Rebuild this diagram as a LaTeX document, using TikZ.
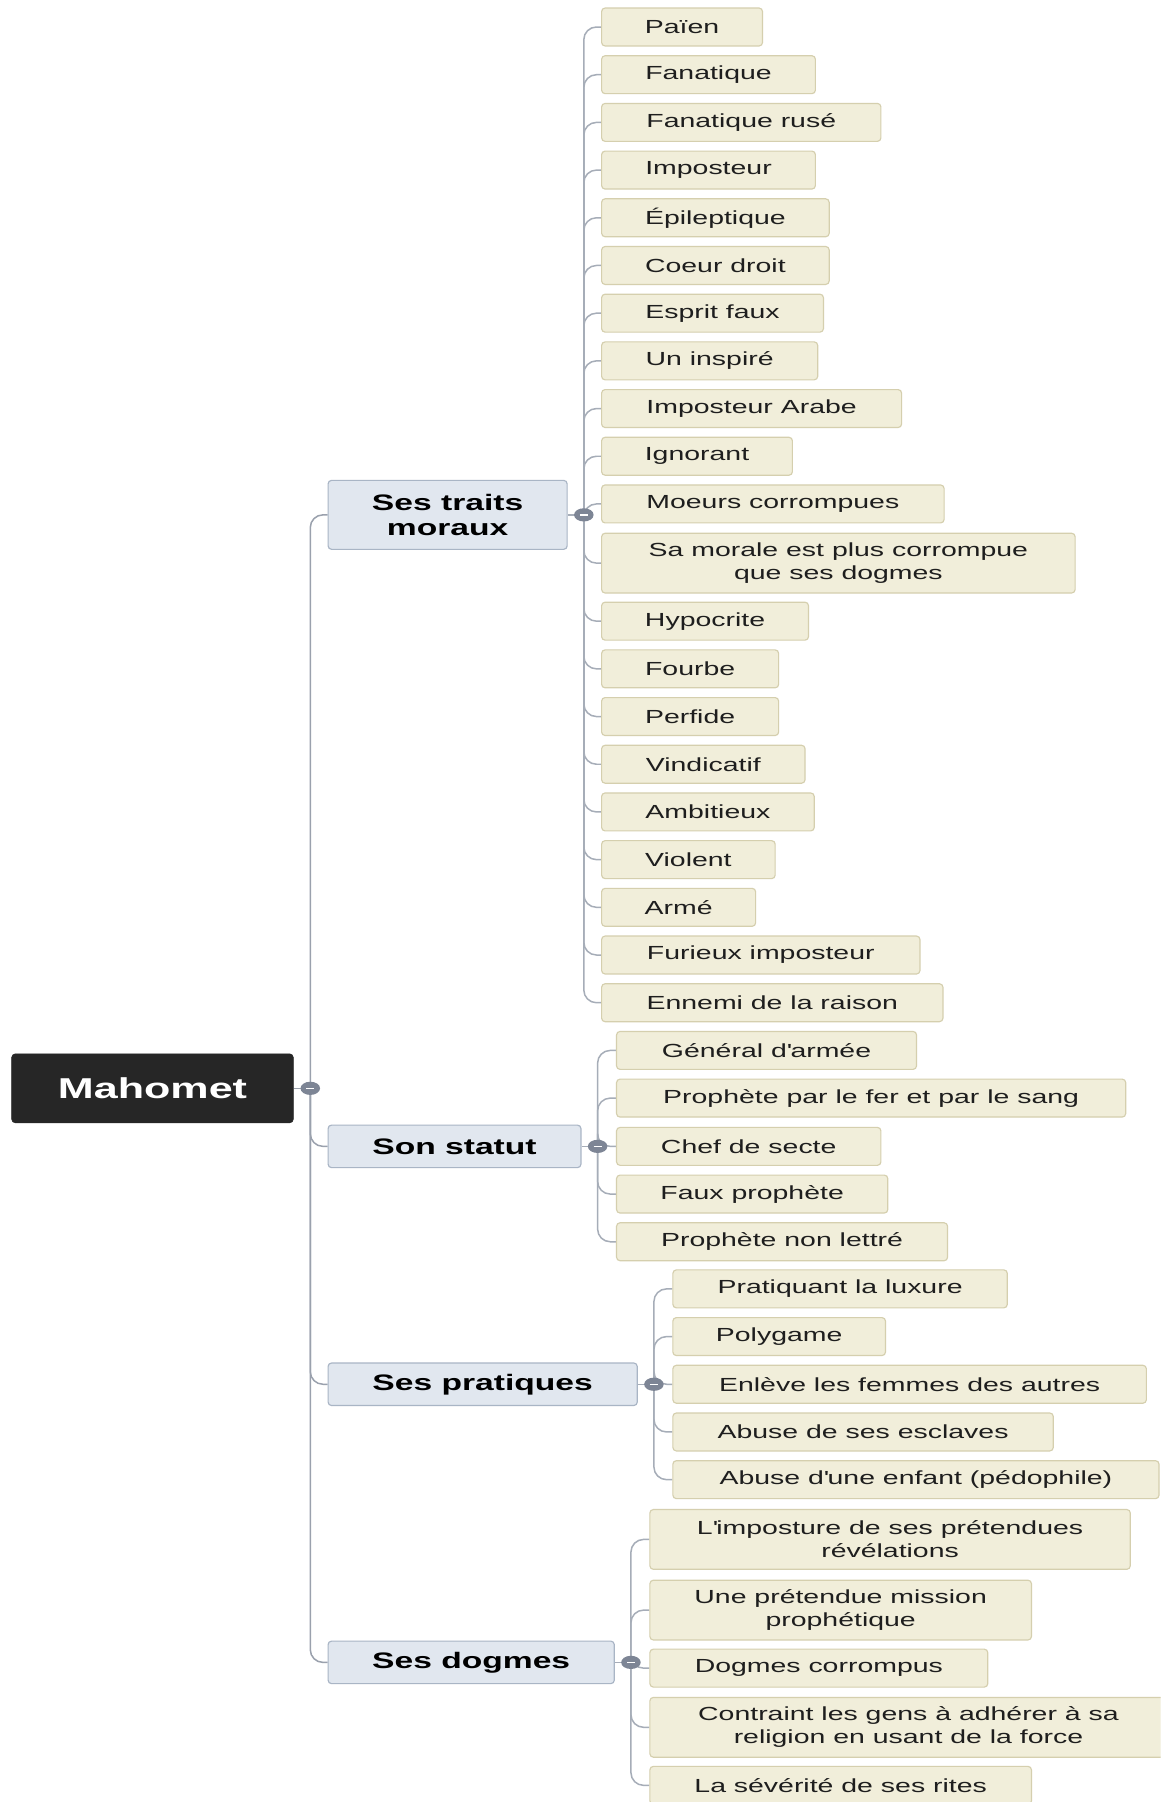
\documentclass[tikz,border=0pt]{standalone}
\usepackage{fontspec}
\usetikzlibrary{shapes.geometric,backgrounds}
\newfontfamily\reg{Liberation Sans}[FakeStretch=1.5]
\definecolor{leaffill}{HTML}{F1EEDA}
\definecolor{leafborder}{HTML}{D5CFAE}
\definecolor{leaftext}{HTML}{1E1E1E}
\definecolor{topfill}{HTML}{E1E7EF}
\definecolor{topborder}{HTML}{A9B5C5}
\definecolor{rootfill}{HTML}{262626}
\definecolor{linec}{HTML}{A6ADB8}
\definecolor{trunkc}{HTML}{9AA1AD}
\definecolor{hubc}{HTML}{7D8595}
\tikzset{
  leaf/.style={draw=leafborder, fill=leaffill, rounded corners=3pt, minimum height=33pt,
    anchor=west, align=center, inner sep=0pt, line width=1pt, text=leaftext,
    font=\fontsize{16.5}{20}\selectfont\reg},
  leaftwo/.style={leaf, minimum height=52pt},
  topic/.style={draw=topborder, fill=topfill, rounded corners=3pt, minimum height=37pt,
    anchor=west, align=center, inner sep=0pt, line width=1pt, text=black,
    font=\fontsize{19.5}{22}\selectfont\reg\bfseries},
  rootbox/.style={draw=rootfill, fill=rootfill, rounded corners=3pt, minimum height=60pt,
    minimum width=245pt, anchor=west, inner sep=0pt, text=white,
    font=\fontsize{25}{30}\selectfont\reg\bfseries},
  hub/.style={ellipse, fill=hubc, minimum width=17pt, minimum height=11.5pt, inner sep=0pt,
    path picture={\draw[white, line width=1.2pt]
      ([xshift=-3.5pt]path picture bounding box.center) -- ([xshift=3.5pt]path picture bounding box.center);}},
  link/.style={draw=linec, line width=1.3pt, rounded corners=11pt},
  trunk/.style={draw=trunkc, line width=1.3pt, rounded corners=11pt},
}
\begin{document}
\begin{tikzpicture}[x=1pt,y=1pt]
\useasboundingbox (0,0) rectangle (1010,-1568);
\clip (0,0) rectangle (1010,-1568);

% root
\node[rootbox] (root) at (10,-947) {Mahomet};
\node[hub] (h0) at (270,-947) {};

% topics
\node[topic, minimum width=208pt, minimum height=60pt] (t1) at (285,-448) {Ses traits\\moraux};
\node[topic, minimum width=220pt] (t2) at (285,-997.5) {Son statut};
\node[topic, minimum width=269pt] (t3) at (285,-1204.5) {Ses pratiques};
\node[topic, minimum width=249pt] (t4) at (285,-1446.5) {Ses dogmes};

\node[hub] (h1) at (508,-448) {};
\node[hub] (h2) at (520,-997.5) {};
\node[hub] (h3) at (569,-1204.5) {};
\node[hub] (h4) at (549,-1446.5) {};

% Ses traits moraux
\node[leaf, minimum width=140pt] (a1) at (523,-23.5) {Païen};
\node[leaf, minimum width=186pt] (a2) at (523,-65) {Fanatique};
\node[leaf, minimum width=243pt] (a3) at (523,-106.5) {Fanatique rusé};
\node[leaf, minimum width=186pt] (a4) at (523,-148) {Imposteur};
\node[leaf, minimum width=198pt] (a5) at (523,-189.5) {Épileptique};
\node[leaf, minimum width=198pt] (a6) at (523,-231) {Coeur droit};
\node[leaf, minimum width=193pt] (a7) at (523,-272.5) {Esprit faux};
\node[leaf, minimum width=188pt] (a8) at (523,-314) {Un inspiré};
\node[leaf, minimum width=261pt] (a9) at (523,-355.5) {Imposteur Arabe};
\node[leaf, minimum width=166pt] (a10) at (523,-397) {Ignorant};
\node[leaf, minimum width=298pt] (a11) at (523,-438.5) {Moeurs corrompues};
\node[leaftwo, minimum width=412pt] (a12) at (523,-490) {Sa morale est plus corrompue\\que ses dogmes};
\node[leaf, minimum width=180pt] (a13) at (523,-540.5) {Hypocrite};
\node[leaf, minimum width=154pt] (a14) at (523,-582) {Fourbe};
\node[leaf, minimum width=154pt] (a15) at (523,-623.5) {Perfide};
\node[leaf, minimum width=177pt] (a16) at (523,-665) {Vindicatif};
\node[leaf, minimum width=185pt] (a17) at (523,-706.5) {Ambitieux};
\node[leaf, minimum width=151pt] (a18) at (523,-748) {Violent};
\node[leaf, minimum width=134pt] (a19) at (523,-789.5) {Armé};
\node[leaf, minimum width=277pt] (a20) at (523,-831) {Furieux imposteur};
\node[leaf, minimum width=297pt] (a21) at (523,-872.5) {Ennemi de la raison};

% Son statut
\node[leaf, minimum width=261pt] (b1) at (536,-914) {Général d\textquotesingle armée};
\node[leaf, minimum width=443pt] (b2) at (536,-955.5) {Prophète par le fer et par le sang};
\node[leaf, minimum width=230pt] (b3) at (536,-997.5) {Chef de secte};
\node[leaf, minimum width=236pt] (b4) at (536,-1039) {Faux prophète};
\node[leaf, minimum width=288pt] (b5) at (536,-1080.5) {Prophète non lettré};

% Ses pratiques
\node[leaf, minimum width=291pt] (c1) at (585,-1121.5) {Pratiquant la luxure};
\node[leaf, minimum width=185pt] (c2) at (585,-1163) {Polygame};
\node[leaf, minimum width=412pt] (c3) at (585,-1204.5) {Enlève les femmes des autres};
\node[leaf, minimum width=331pt] (c4) at (585,-1246) {Abuse de ses esclaves};
\node[leaf, minimum width=423pt] (c5) at (585,-1287.5) {Abuse d\textquotesingle une enfant (pédophile)};

% Ses dogmes
\node[leaftwo, minimum width=418pt] (d1) at (565,-1339.5) {L\textquotesingle imposture de ses prétendues\\révélations};
\node[leaftwo, minimum width=332pt] (d2) at (565,-1401) {Une prétendue mission\\prophétique};
\node[leaf, minimum width=294pt] (d3) at (565,-1451.5) {Dogmes corrompus};
\node[leaftwo, minimum width=450pt] (d4) at (565,-1503) {Contraint les gens à adhérer à sa\\religion en usant de la force};
\node[leaf, minimum width=332pt] (d5) at (565,-1553.5) {La sévérité de ses rites};

\begin{scope}[on background layer]
  \fill[white] (0,0) rectangle (1010,-1568);
  \draw[trunk] (root.east) -- (h0.center);
  \foreach \t in {t1,t2,t3,t4} \draw[trunk] (h0.center) |- (\t.west);
  \draw[link] (t1.east) -- (h1.center);
  \draw[link] (t2.east) -- (h2.center);
  \draw[link] (t3.east) -- (h3.center);
  \draw[link] (t4.east) -- (h4.center);
  \foreach \n in {1,...,21} \draw[link] (h1.center) |- (a\n.west);
  \foreach \n in {1,...,5} \draw[link] (h2.center) |- (b\n.west);
  \foreach \n in {1,...,5} \draw[link] (h3.center) |- (c\n.west);
  \foreach \n in {1,...,5} \draw[link] (h4.center) |- (d\n.west);
\end{scope}
\end{tikzpicture}
\end{document}
